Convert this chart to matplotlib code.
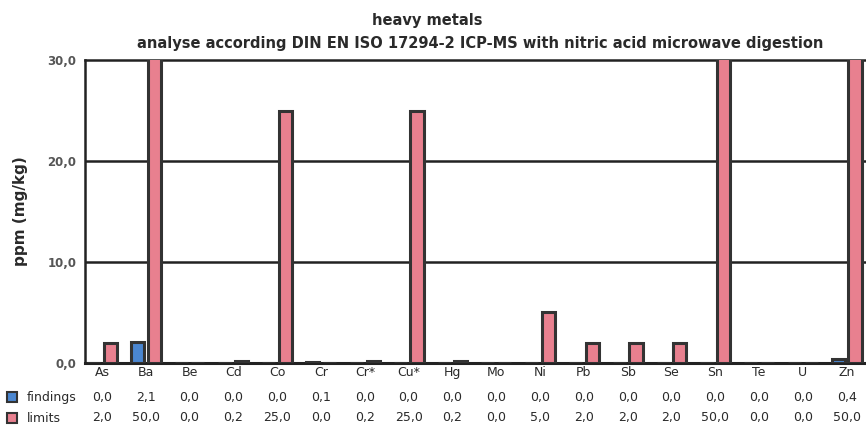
import matplotlib
matplotlib.use("Agg")
import matplotlib.pyplot as plt
import matplotlib.transforms as mtransforms
from matplotlib.lines import Line2D
import numpy as np

# ─────────────────────────────────────────────────────────────
# Donnees
# ─────────────────────────────────────────────────────────────
elements = ["As", "Ba", "Be", "Cd", "Co", "Cr", "Cr*", "Cu*", "Hg",
            "Mo", "Ni", "Pb", "Sb", "Se", "Sn", "Te", "U", "Zn"]
findings = [0.0, 2.1, 0.0, 0.0, 0.0, 0.1, 0.0, 0.0, 0.0,
            0.0, 0.0, 0.0, 0.0, 0.0, 0.0, 0.0, 0.0, 0.4]
limits = [2.0, 50.0, 0.0, 0.2, 25.0, 0.0, 0.2, 25.0, 0.2,
          0.0, 5.0, 2.0, 2.0, 2.0, 50.0, 0.0, 0.0, 50.0]
yticks = [0, 10, 20, 30]

BLUE = "#4a86d0"
PINK = "#e8808f"
EDGE = "#333333"
TXT = "#2a2a2a"

plt.rcParams["font.family"] = ["DejaVu Sans"]

fig = plt.figure(figsize=(8.66, 4.29), dpi=100)
ax = fig.add_axes([0.098, 0.154, 0.902, 0.706])

x = np.arange(len(elements))
w = 0.30
off = 0.19

ax.bar(x - off, findings, w, color=BLUE, edgecolor=EDGE, linewidth=2.2, zorder=3)
ax.bar(x + off, limits, w, color=PINK, edgecolor=EDGE, linewidth=2.2, zorder=3)

ax.set_xlim(-0.39, 17.44)
ax.set_ylim(0, 30)
ax.set_yticks(yticks)
ax.set_yticklabels([f"{v:.1f}".replace(".", ",") for v in yticks],
                   fontsize=8.5, color="#555555", fontweight="bold")
ax.tick_params(axis="y", length=0, pad=6)

ax.set_xticks(x)
ax.set_xticklabels(elements, fontsize=9, color=TXT)
ax.tick_params(axis="x", length=0, pad=2)

for v in yticks[1:3]:
    ax.axhline(v, color="#222222", linewidth=1.8, zorder=1)

for side in ["top", "left", "bottom"]:
    ax.spines[side].set_color("#222222")
    ax.spines[side].set_linewidth(1.8)
ax.spines["bottom"].set_linewidth(2.2)
ax.spines["right"].set_visible(False)

ax.set_ylabel("ppm (mg/kg)", fontsize=11, fontweight="bold", color=TXT, labelpad=14)

# Titres
fig.text(0.493, 0.952, "heavy metals", ha="center", va="center",
         fontsize=10.5, fontweight="bold", color=TXT)
fig.text(0.554, 0.898,
         "analyse according DIN EN ISO 17294-2 ICP-MS with nitric acid microwave digestion",
         ha="center", va="center", fontsize=10.5, fontweight="bold", color=TXT)

# Tableau sous le graphique
trans = mtransforms.blended_transform_factory(ax.transData, fig.transFigure)
rows = [("findings", findings, BLUE, 1 - 397 / 429),
        ("limits", limits, PINK, 1 - 418 / 429)]
for name, vals, col, yf in rows:
    fig.add_artist(Line2D([0.014], [yf], marker="s", markersize=6.5,
                          markerfacecolor=col, markeredgecolor=EDGE,
                          markeredgewidth=1.5, linestyle="none",
                          transform=fig.transFigure))
    fig.text(0.031, yf, name, ha="left", va="center", fontsize=9, color=TXT)
    for xi, v in zip(x, vals):
        ax.text(xi, yf, f"{v:.1f}".replace(".", ","), transform=trans,
                ha="center", va="center", fontsize=9, color=TXT)

fig.savefig("out.png", dpi=100)
